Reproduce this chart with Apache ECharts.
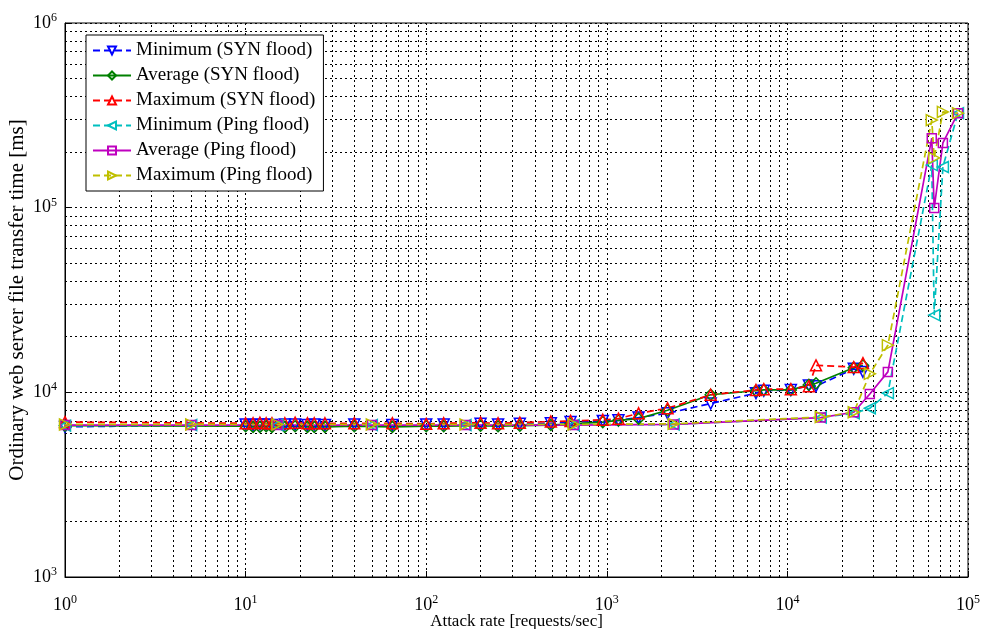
<!DOCTYPE html>
<html>
<head>
<meta charset="utf-8">
<script src="https://cdn.jsdelivr.net/npm/echarts@6/dist/echarts.min.js"></script>
<style>html,body{margin:0;padding:0;background:#fff}#c{width:990px;height:629px}</style>
</head>
<body>
<div id="c"></div>
<script>
// ---- Data ----
const synRate = [1, 10, 11, 12, 13, 14, 16.5, 18.8, 22, 24, 27.5, 40, 65, 100, 125, 200, 250, 330, 490, 630, 950, 1160, 1500, 2170, 3760, 6700, 7400, 10450, 13150, 14400, 23300, 26200];
const synMin = [6500, 6700, 6650, 6700, 6700, 6650, 6700, 6700, 6650, 6700, 6650, 6700, 6650, 6700, 6700, 6750, 6700, 6750, 6800, 6900, 7000, 7050, 7300, 7700, 8700, 9900, 10200, 10300, 10900, 10800, 13400, 12900];
const synAvg = [6600, 6550, 6500, 6500, 6550, 6500, 6500, 6550, 6500, 6500, 6500, 6550, 6500, 6550, 6550, 6600, 6550, 6600, 6650, 6750, 6900, 7050, 7200, 8000, 9700, 10200, 10300, 10300, 11000, 11200, 13600, 14000];
const synMax = [6900, 6800, 6800, 6850, 6800, 6800, 6800, 6850, 6800, 6800, 6800, 6800, 6800, 6750, 6800, 6850, 6800, 6850, 6950, 7000, 7100, 7200, 7700, 8200, 9700, 10300, 10400, 10400, 10800, 14000, 13700, 14400];

const pingRate = [1, 5, 15, 50, 165, 655, 2345, 15300, 23300, 28600, 36000, 63000, 65000, 72600, 88000];
const pingMin = [6600, 6650, 6650, 6650, 6650, 6650, 6700, 7300, 7700, 8200, 9900, 170000, 26200, 166000, 325000];
const pingAvg = [6650, 6650, 6650, 6650, 6650, 6650, 6700, 7300, 7800, 9800, 12900, 238000, 99600, 224000, 325000];
const pingMax = [6700, 6700, 6700, 6700, 6700, 6700, 6750, 7350, 7800, 12600, 18000, 298000, 186000, 330000, 325000];

const seriesNames = ['Minimum (SYN flood)', 'Average (SYN flood)', 'Maximum (SYN flood)',
                     'Minimum (Ping flood)', 'Average (Ping flood)', 'Maximum (Ping flood)'];

const xRange = [1, 100000];
const yRange = [1000, 1000000];

// minor grid values (2..9 x 10^k)
const xMinor = [], yMinor = [];
for (let e = 0; e < 5; e++) for (let m = 2; m <= 9; m++) xMinor.push(m * Math.pow(10, e));
for (let e = 3; e < 6; e++) for (let m = 2; m <= 9; m++) yMinor.push(m * Math.pow(10, e));

const FONT = '"Liberation Serif", "Times New Roman", serif';
const zip = (xs, ys) => xs.map((x, i) => [x, ys[i]]);

function mk(name, xs, ys, color, symbol, rot, dashed) {
  return {
    name, type: 'line', data: zip(xs, ys), z: 5,
    symbol, symbolSize: symbol === 'rect' ? 9 : 11, symbolRotate: rot,
    showSymbol: true,
    lineStyle: { color, width: 1.7, type: dashed ? [7, 4] : 'solid' },
    itemStyle: { color: 'rgba(255,255,255,0)', borderColor: color, borderWidth: 1.5 },
    emphasis: { disabled: true },
    animation: false
  };
}

const expLabel = v => {
  const e = Math.round(Math.log10(v));
  return '{b|10}{s|' + e + '}';
};
const labelRich = {
  b: { fontFamily: FONT, fontSize: 18, color: '#000' },
  s: { fontFamily: FONT, fontSize: 12, color: '#000', verticalAlign: 'top', padding: [0, 0, 10, 0] }
};
const dotted = { color: '#000', width: 1, type: [2, 3] };

const chart = echarts.init(document.getElementById('c'), null, { renderer: 'canvas' });
chart.setOption({
  backgroundColor: '#fff',
  animation: false,
  grid: { left: 65, right: 22, top: 23, bottom: 52, outerBoundsMode: 'none', containLabel: false,
          show: true, borderColor: '#000', borderWidth: 1, backgroundColor: 'transparent' },
  xAxis: {
    type: 'log', logBase: 10, min: xRange[0], max: xRange[1],
    name: 'Attack rate [requests/sec]', nameLocation: 'middle', nameGap: 36, nameMoveOverlap: false,
    nameTextStyle: { fontFamily: FONT, fontSize: 17, color: '#000' },
    axisLine: { show: true, lineStyle: { color: '#000', width: 1 } },
    axisTick: { show: true, inside: true, length: 6, lineStyle: { color: '#000' } },
    axisLabel: { formatter: expLabel, rich: labelRich, margin: 17 },
    splitLine: { show: true, lineStyle: dotted },
    minorTick: { show: false }, minorSplitLine: { show: false }
  },
  yAxis: {
    type: 'log', logBase: 10, min: yRange[0], max: yRange[1],
    name: 'Ordinary web server file transfer time [ms]', nameLocation: 'middle', nameGap: 37, nameMoveOverlap: false,
    nameTextStyle: { fontFamily: FONT, fontSize: 21, color: '#000' },
    axisLine: { show: true, lineStyle: { color: '#000', width: 1 } },
    axisTick: { show: true, inside: true, length: 6, lineStyle: { color: '#000' } },
    axisLabel: { formatter: expLabel, rich: labelRich, margin: 8 },
    splitLine: { show: true, lineStyle: dotted },
    minorTick: { show: false }, minorSplitLine: { show: false }
  },
  legend: {
    data: seriesNames, z: 50, zlevel: 1,
    orient: 'vertical', left: 86, top: 35,
    backgroundColor: '#fff', borderColor: '#000', borderWidth: 1,
    padding: [6, 8, 6, 6], itemGap: 6, itemWidth: 38, itemHeight: 10,
    textStyle: { fontFamily: FONT, fontSize: 19, lineHeight: 19, color: '#000' },
    selectedMode: false
  },
  series: [
    {
      name: 'grid-minor', type: 'line', data: [], silent: true, z: 1,
      markLine: {
        silent: true, symbol: 'none', animation: false,
        label: { show: false },
        lineStyle: dotted,
        emphasis: { disabled: true },
        data: xMinor.map(v => ({ xAxis: v })).concat(yMinor.map(v => ({ yAxis: v })))
      }
    },
    mk(seriesNames[0], synRate, synMin, '#0000ff', 'triangle', 180, true),
    mk(seriesNames[1], synRate, synAvg, '#008000', 'diamond', 0, false),
    mk(seriesNames[2], synRate, synMax, '#ff0000', 'triangle', 0, true),
    mk(seriesNames[3], pingRate, pingMin, '#00bfbf', 'triangle', 90, true),
    mk(seriesNames[4], pingRate, pingAvg, '#bf00bf', 'rect', 0, false),
    mk(seriesNames[5], pingRate, pingMax, '#bfbf00', 'triangle', -90, true)
  ]
});
</script>
</body>
</html>
